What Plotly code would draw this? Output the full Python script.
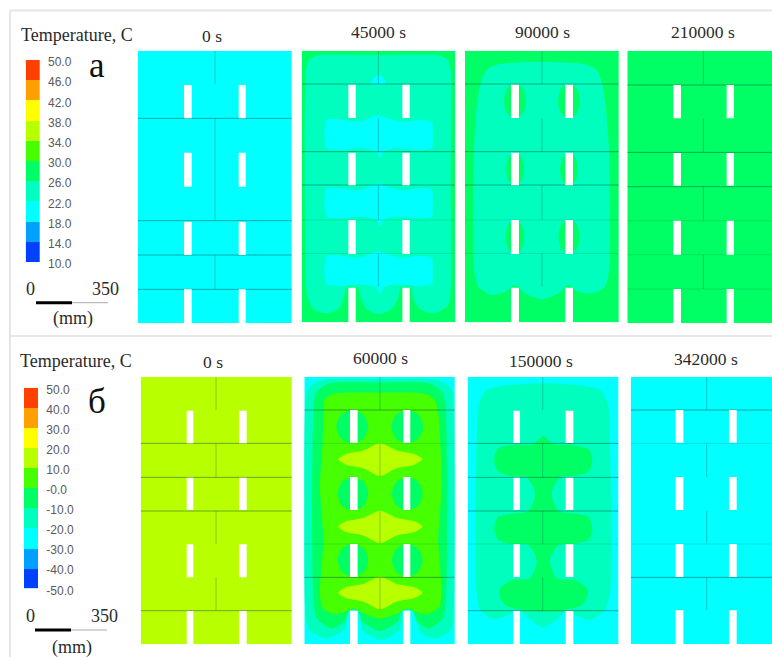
import plotly.graph_objects as go

W, H = 772, 657
SERIF = "Liberation Serif"
SANS = "Liberation Sans"

# colour legend (10 bands, low to high)
BAND_COLORS = ["#0040ff", "#00a0ff", "#00ffff", "#00ffbe", "#00ff64",
               "#46ff00", "#b8ff00", "#ffff00", "#ffa000", "#ff4000"]
LEVELS_A = [10, 14, 18, 22, 26, 30, 34, 38, 42, 46, 50]
LEVELS_B = [-50, -40, -30, -20, -10, 0, 10, 20, 30, 40, 50]
LABELS_A = ["10.0", "14.0", "18.0", "22.0", "26.0", "30.0", "34.0", "38.0", "42.0", "46.0", "50.0"]
LABELS_B = ["-50.0", "-40.0", "-30.0", "-20.0", "-10.0", "-0.0", "10.0", "20.0", "30.0", "40.0", "50.0"]

TIMES_A = ["0 s", "45000 s", "90000 s", "210000 s"]
TIMES_B = ["0 s", "60000 s", "150000 s", "342000 s"]

# panel boxes on the page: left, right, top, bottom
BOX_A = [(137.7, 291.7, 50.7, 323.3), (301.7, 455.0, 50.7, 322.3), (465.0, 618.7, 50.7, 322.3), (627.3, 772.0, 50.7, 323.0)]
BOX_B = [(140.7, 291.7, 376.7, 644.3), (304.3, 454.7, 376.7, 644.0), (467.7, 618.3, 376.7, 644.0), (630.7, 772.0, 376.7, 644.0)]

# uniform temperature reached by each panel's outer region
BASE_A = [20, 28, 28, 28]
BASE_B = [15, -25, -25, -25]

# slot edges in panel units
SLOT_X_A = [[139, 162, 303, 324], [140, 162, 302, 324], [138, 162, 301, 324], [138, 161, 298, 320]]
SLOT_Y_A = [[103, 203, 306, 408, 513, 613, 716, 830], [102, 202, 306, 404, 508, 610, 711, 830],
            [102, 202, 306, 404, 508, 610, 711, 830], [103, 203, 307, 405, 510, 612, 715, 830]]
SLOT_X_B = [[138, 158, 295, 318], [137, 160, 297, 318], [137, 157, 294, 317], [135, 158, 295, 318]]
SLOT_Y_B = [[102, 200, 303, 400, 503, 602, 703, 820], [100, 198, 301, 400, 502, 601, 702, 820],
            [102, 199, 303, 400, 503, 601, 703, 820], [100, 198, 301, 400, 502, 601, 701, 820]]

# mortar joints: horizontal lines (strong, faint) and vertical joint spans
JOINT_H_A = [([203, 510, 613, 716], []), ([100, 303, 403], [508, 608]), ([100, 303, 403], [508, 608]), ([103, 305, 408], [510, 612, 715])]
JOINT_H_B = [([200, 302, 403, 702], []), ([100, 602], [200, 502]), ([200, 302, 403, 702], [502]), ([100, 602], [200, 502])]
JOINT_V_A = [[(0, 100), (203, 510), (613, 716)], [(0, 100), (203, 303), (403, 508), (608, 708)],
             [(0, 100), (203, 303), (403, 508), (608, 708)], [(0, 100), (203, 305), (408, 510), (612, 715)]]
JOINT_V_B = [[(0, 100), (200, 302), (403, 502), (602, 702)], [(0, 100), (200, 300), (405, 500), (602, 700)],
             [(0, 100), (200, 302), (403, 502), (602, 702)], [(0, 100), (200, 300), (403, 500), (602, 700)]]
JOINT_X_A = [232, 230, 231, 228]
JOINT_X_B = [226, 227, 225, 228]

# contour outlines, panel units
A45_MID = [(13,60),(22,28),(50,14),(230,13),(410,14),(438,28),(447,60),(447,400),(447,720),(438,765),(395,788),(355,775),(335,745),(328,711),(298,711),(288,745),(270,775),(232,790),(195,775),(178,745),(168,711),(135,711),(125,745),(110,775),(72,788),(35,775),(18,740),(13,700)]
A45_BLOB = [(68,248),(75,208),(110,206),(170,213),(215,198),(230,193),(250,200),(300,213),(355,208),(390,213),(393,248),(390,293),(350,298),(280,293),(245,303),(235,323),(225,303),(180,293),(110,298),(75,293)]
A45_BLOB_SHIFT = [0, 205, 408]
A45_TOP = [(208,100),(216,80),(231,72),(244,80),(252,100)]

A90_MID = [(27,298),(35,168),(48,93),(65,58),(100,41),(230,33),(360,41),(395,58),(410,93),(422,168),(432,298),(432,658),(420,708),(380,728),(340,723),(310,703),(280,728),(230,746),(180,728),(150,703),(120,723),(80,733),(40,708),(27,658)]
A90_SPOTS = [(150,151,33,52),(312,151,33,52),(150,356,27,50),(312,356,27,50),(150,558,28,52),(312,558,32,52)]

B60_OUTER = [(3,90),(12,35),(50,10),(225,6),(400,10),(440,35),(448,90),(448,700),(440,760),(395,785),(350,770),(322,702),(295,702),(285,760),(230,790),(175,760),(162,702),(135,702),(118,760),(65,785),(15,760),(3,700)]
B60_MID = [(27,120),(35,50),(70,22),(225,18),(380,22),(415,50),(425,120),(425,660),(415,725),(375,755),(340,735),(325,702),(295,702),(280,735),(228,762),(175,735),(160,702),(135,702),(120,735),(80,755),(38,725),(27,660)]
B60_INNER = [(57,110),(60,70),(85,52),(225,48),(365,52),(392,70),(402,110),(408,200),(412,330),(402,490),(412,650),(405,690),(370,712),(335,706),(310,695),(280,710),(228,726),(178,710),(150,695),(118,708),(85,712),(55,695),(47,650),(57,490),(47,330),(55,200)]
B60_SPOTS = [(144,150,48,50),(309,150,48,50),(146,351,46,50),(309,351,46,50),(146,551,46,50),(309,551,46,50)]
B60_CORE = [(102,248),(125,232),(175,222),(227,200),(279,222),(330,232),(354,248),(330,264),(279,274),(227,298),(175,274),(125,264)]
B60_CORE_SHIFT = [0, 202, 400]

B150_MID = [(27,190),(34,80),(57,40),(102,28),(227,20),(352,28),(397,40),(420,80),(427,190),(427,650),(412,700),(367,728),(322,715),(302,698),(272,725),(227,752),(182,725),(152,698),(122,715),(77,728),(37,700),(27,650)]
B150_CORE = [(79,250),(92,215),(142,205),(197,202),(227,178),(257,202),(312,205),(362,218),(374,250),(362,285),(312,298),(277,302),(252,350),(272,403),(312,410),(362,420),(374,455),(362,490),(312,502),(272,505),(247,550),(267,605),(322,610),(357,635),(360,655),(342,685),(282,702),(227,705),(172,702),(112,685),(94,655),(97,635),(132,610),(187,605),(207,550),(182,505),(132,502),(92,490),(79,455),(92,420),(142,410),(182,403),(202,350),(177,302),(132,298),(92,285)]

SPOT_TEMPLATE = [(0,-1),(.7,-.72),(1,0),(.7,.72),(0,1),(-.7,.72),(-1,0),(-.7,-.72)]


def band_color(temp, levels):
    for i in range(10):
        if levels[i] <= temp < levels[i + 1]:
            return BAND_COLORS[i]
    return BAND_COLORS[-1]


def shifted(pts, dy):
    return [(x, y + dy) for x, y in pts]


def spot(s):
    return [(s[0] + a * s[2], s[1] + b * s[3]) for a, b in SPOT_TEMPLATE]


REGIONS_A = [
    [],
    [(24, A45_MID)] + [(20, shifted(A45_BLOB, d)) for d in A45_BLOB_SHIFT] + [(20, A45_TOP)],
    [(24, A90_MID)] + [(28, spot(s)) for s in A90_SPOTS],
    [],
]
REGIONS_B = [
    [],
    [(-15, B60_OUTER), (-5, B60_MID), (5, B60_INNER)] + [(-5, spot(s)) for s in B60_SPOTS] + [(15, shifted(B60_CORE, d)) for d in B60_CORE_SHIFT],
    [(-15, B150_MID), (-5, B150_CORE)],
    [],
]

fig = go.Figure()
layout_axes = {}
axis_count = 0


def px_x(v):
    return v / W


def px_y(v):
    return 1 - v / H


def new_axes(left, right, top, bottom, xr, yr, **yopts):
    global axis_count
    axis_count += 1
    n = axis_count
    sfx = "" if n == 1 else str(n)
    layout_axes["xaxis" + sfx] = dict(domain=[px_x(left), min(px_x(right), 1)], range=xr, visible=False,
                                      anchor="y" + sfx, fixedrange=True)
    y = dict(domain=[px_y(bottom), px_y(top)], range=yr, anchor="x" + sfx, fixedrange=True)
    if yopts:
        y.update(yopts)
    else:
        y["visible"] = False
    layout_axes["yaxis" + sfx] = y
    return "x" + sfx, "y" + sfx


def add_region(pts, color, xa, ya, smooth=True):
    xs = [p[0] for p in pts] + [pts[0][0]]
    ys = [p[1] for p in pts] + [pts[0][1]]
    fig.add_trace(go.Scatter(x=xs, y=ys, xaxis=xa, yaxis=ya, mode="lines", fill="toself", fillcolor=color,
                             line=dict(width=0, color=color, shape="spline" if smooth else "linear", smoothing=0.7),
                             hoverinfo="skip", showlegend=False))


def add_panel(box, base, regions, slot_x, slot_y, joints_h, joints_v, joint_x, levels):
    left, right, top, bottom = box
    uw = (right - left) * 3
    uh = (bottom - top) * 3
    xa, ya = new_axes(left, right, top, bottom, [0, uw], [uh, 0])
    add_region([(0, 0), (uw + 40, 0), (uw + 40, uh), (0, uh)], band_color(base, levels), xa, ya, smooth=False)
    for temp, pts in regions:
        add_region(pts, band_color(temp, levels), xa, ya)
    strong, faint = joints_h
    for ys, alpha in ((strong, 0.45), (faint, 0.15)):
        if ys:
            xs, yy = [], []
            for y in ys:
                xs += [0, uw + 40, None]
                yy += [y, y, None]
            fig.add_trace(go.Scatter(x=xs, y=yy, xaxis=xa, yaxis=ya, mode="lines", hoverinfo="skip", showlegend=False,
                                     line=dict(width=1, color=f"rgba(0,70,60,{alpha})")))
    xs, yy = [], []
    for a, b in joints_v:
        xs += [joint_x, joint_x, None]
        yy += [a, b, None]
    fig.add_trace(go.Scatter(x=xs, y=yy, xaxis=xa, yaxis=ya, mode="lines", hoverinfo="skip", showlegend=False,
                             line=dict(width=1, color="rgba(0,70,60,0.28)")))
    for i in (0, 2):
        for j in (0, 2, 4, 6):
            x0, x1, y0, y1 = slot_x[i], slot_x[i + 1], slot_y[j], slot_y[j + 1]
            add_region([(x0, y0), (x1, y0), (x1, y1), (x0, y1)], "#ffffff", xa, ya, smooth=False)


for i in range(4):
    add_panel(BOX_A[i], BASE_A[i], REGIONS_A[i], SLOT_X_A[i], SLOT_Y_A[i], JOINT_H_A[i], JOINT_V_A[i], JOINT_X_A[i], LEVELS_A)
    add_panel(BOX_B[i], BASE_B[i], REGIONS_B[i], SLOT_X_B[i], SLOT_Y_B[i], JOINT_H_B[i], JOINT_V_B[i], JOINT_X_B[i], LEVELS_B)


def add_legend(left, right, top, bottom, levels, labels):
    scale = []
    for i, c in enumerate(BAND_COLORS):
        scale += [[i / 10, c], [(i + 1) / 10, c]]
    z = [[(levels[i] + levels[i + 1]) / 2] for i in range(10)]
    xa, ya = new_axes(left, right, top, bottom, [0, 1], [levels[0], levels[-1]],
                      side="right", showgrid=False, zeroline=False, showline=False, ticks="",
                      tickmode="array", tickvals=levels, ticktext=labels, ticklabelstandoff=7,
                      ticklabelshift=2, tickfont=dict(family=SANS, size=12, color="#5a5a5a"))
    fig.add_trace(go.Heatmap(x=[0, 1], y=levels, z=z, zmin=levels[0], zmax=levels[-1], colorscale=scale,
                             showscale=False, xaxis=xa, yaxis=ya, hoverinfo="skip"))


add_legend(25.7, 40.0, 60.0, 262.0, LEVELS_A, LABELS_A)
add_legend(24.0, 38.3, 387.7, 588.3, LEVELS_B, LABELS_B)

SCALE_MM = [0, 175, 350]


def add_scale(left, right, y):
    xa, ya = new_axes(left, right, y - 3, y + 3, [0, 350], [0, 1])
    fig.add_trace(go.Scatter(x=SCALE_MM[1:], y=[.5, .5], xaxis=xa, yaxis=ya, mode="lines", hoverinfo="skip",
                             showlegend=False, line=dict(color="#a8a8a8", width=1)))
    fig.add_trace(go.Scatter(x=SCALE_MM[:2], y=[.5, .5], xaxis=xa, yaxis=ya, mode="lines", hoverinfo="skip",
                             showlegend=False, line=dict(color="#000000", width=3)))


add_scale(36, 108, 302.7)
add_scale(35, 107, 630)

annotations = []


def note(text, x, y, size, color="#2a2a2a", family=SERIF):
    annotations.append(dict(text=text, x=px_x(x), y=px_y(y), xref="paper", yref="paper", showarrow=False,
                            xanchor="center", yanchor="middle", font=dict(family=family, size=size, color=color)))


TITLE_X_A = [212, 378, 542, 703]
TITLE_Y_A = [36, 32, 32, 32]
TITLE_X_B = [213, 380, 541, 706]
TITLE_Y_B = [362, 358, 361, 359]
for i in range(4):
    note(TIMES_A[i], TITLE_X_A[i], TITLE_Y_A[i], 17.5)
    note(TIMES_B[i], TITLE_X_B[i], TITLE_Y_B[i], 17.5)
note("Temperature, C", 77, 35, 18)
note("Temperature, C", 76, 361, 18)
note("а", 97, 65, 35, "#111111")
note("б", 97, 401, 35, "#111111")
note("0", 31, 289, 18)
note("350", 105, 289, 18)
note("(mm)", 73, 319, 18)
note("0", 30, 616, 18)
note("350", 104, 616, 18)
note("(mm)", 72, 647, 18)

# page separators
SEP = "#e6e6e6"
shapes = [
    dict(type="line", xref="paper", yref="paper", x0=px_x(10), x1=1, y0=px_y(10.5), y1=px_y(10.5), line=dict(color=SEP, width=2)),
    dict(type="line", xref="paper", yref="paper", x0=px_x(10), x1=1, y0=px_y(336), y1=px_y(336), line=dict(color=SEP, width=2)),
    dict(type="line", xref="paper", yref="paper", x0=px_x(10), x1=px_x(10), y0=px_y(10), y1=0, line=dict(color=SEP, width=2)),
]

fig.update_layout(width=W, height=H, margin=dict(l=0, r=0, t=0, b=0, autoexpand=False), paper_bgcolor="#ffffff",
                  plot_bgcolor="rgba(0,0,0,0)", showlegend=False, annotations=annotations, shapes=shapes, **layout_axes)
fig.write_html("out.html", config={"displayModeBar": False},
               post_script="document.body.style.margin='0';document.body.style.padding='0';")
